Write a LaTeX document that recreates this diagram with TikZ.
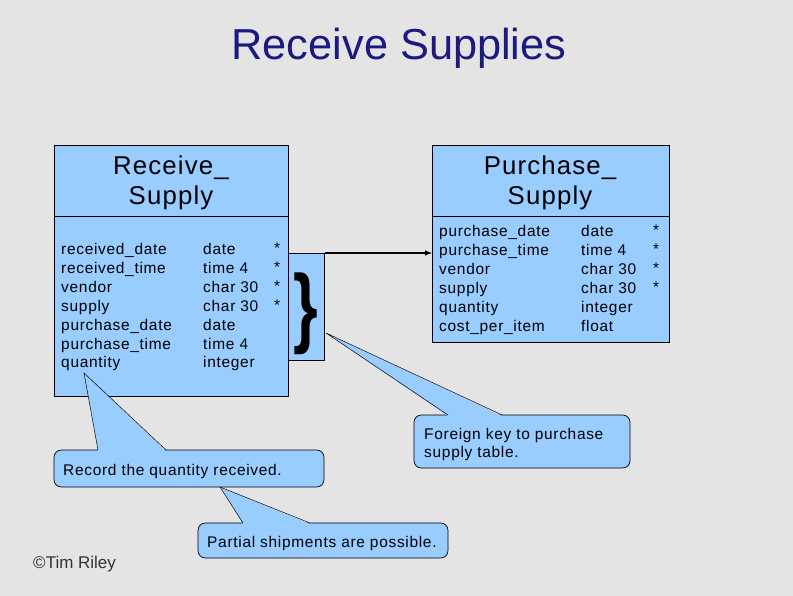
\documentclass[tikz,border=0pt]{standalone}
\usepackage{fontspec}
\setmainfont{Liberation Sans}
\newfontfamily\spacedfont[LetterSpace=4.5]{Liberation Sans}
\definecolor{tblblue}{HTML}{99CCFF}
\definecolor{titleblue}{RGB}{26,26,128}
\definecolor{slidegray}{RGB}{228,228,228}
\tikzset{
  tbl/.style={draw=black, fill=tblblue, line width=0.7pt, inner sep=0pt, anchor=north west},
  head/.style={inner sep=0pt, anchor=north, align=center, font=\spacedfont\fontsize{22}{25.5}\selectfont},
  field/.style={inner sep=0pt, anchor=north west, align=left, font=\spacedfont\fontsize{13.2}{16.15}\selectfont},
  note/.style={draw=black, fill=tblblue, line width=0.6pt, rounded corners=0.22cm},
  notetext/.style={inner sep=0pt, anchor=north west, align=left, font=\spacedfont\fontsize{13.2}{15.3}\selectfont}
}
\begin{document}
\begin{tikzpicture}[x=0.03cm, y=-0.03cm]
\fill[slidegray] (0,0) rectangle (793,596);
\node[font=\fontsize{37}{44}\selectfont, text=titleblue, anchor=base, inner sep=0pt] (title) at (399,60) {Receive Supplies};

% receive supply table
\node[tbl, minimum width=7.02cm, minimum height=7.53cm] (recv) at (54,145) {};
\coordinate (rdiv) at (54,216);
\draw (rdiv) -- (rdiv -| recv.east);
\node[head] (rhead) at (171,156) {Receive\_\\Supply};
\node[field] (rname) at (61,243) {received\_date\\received\_time\\vendor\\supply\\purchase\_date\\purchase\_time\\quantity};
\node[field] (rtype) at (203,243) {date\\time 4\\char 30\\char 30\\date\\time 4\\integer};
\node[field] (rkey) at (274,243) {*\\*\\*\\*};

% foreign key part
\node[tbl, minimum width=1.08cm, minimum height=3.21cm] (fkey) at (288,253) {};
\node[font=\fontsize{75}{75}\selectfont\bfseries, inner sep=0pt] (brace) at (305.5,313.5) {\scalebox{0.72}[1]{\}}};

% purchase supply table
\node[tbl, minimum width=7.11cm, minimum height=5.91cm] (psup) at (432,145) {};
\coordinate (pdiv) at (432,216);
\draw (pdiv) -- (pdiv -| psup.east);
\node[head] (phead) at (550,156) {Purchase\_\\Supply};
\node[field] (pname) at (439,225) {purchase\_date\\purchase\_time\\vendor\\supply\\quantity\\cost\_per\_item};
\node[field] (ptype) at (581,225) {date\\time 4\\char 30\\char 30\\integer\\float};
\node[field] (pkey) at (653,225) {*\\*\\*\\*};

\draw[-latex, line width=1pt] (fkey.north east) -- (fkey.north east -| psup.west);

% callouts
\coordinate (shiptip) at (220,487);
\draw[note] (198,523) rectangle (448,558);
\fill[tblblue] (shiptip) -- (243,524) -- (310,524) -- cycle;
\draw (243,523) -- (shiptip) -- (310,523);
\node[notetext] (shipnote) at (207,535.7) {Partial shipments are possible.};

\coordinate (qtytip) at (84,373);
\draw[note] (54,450) rectangle (324,487);
\fill[tblblue] (qtytip) -- (98,451) -- (166,451) -- cycle;
\draw (98,450) -- (qtytip) -- (166,450);
\node[notetext] (qtynote) at (63,463.7) {Record the quantity received.};

\coordinate (fktip) at (326,333);
\draw[note] (414,415) rectangle (630,468);
\fill[tblblue] (fktip) -- (448,416) -- (502,416) -- cycle;
\draw (448,415) -- (fktip) -- (502,415);
\node[notetext] (fknote) at (424,427.7) {Foreign key to purchase\\supply table.};

\node[font=\fontsize{14.5}{17}\selectfont, text=black!80, anchor=base west, inner sep=0pt] (credit) at (33,568) {©Tim Riley};
\end{tikzpicture}
\end{document}
